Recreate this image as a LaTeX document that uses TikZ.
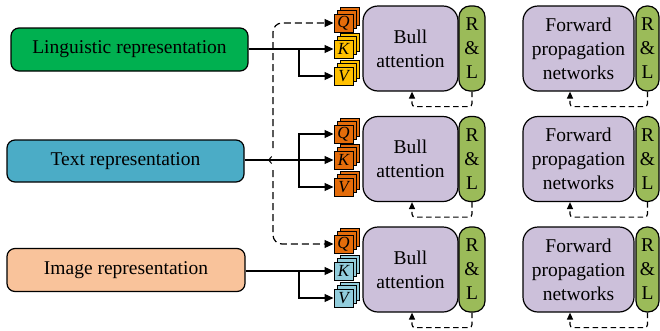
\documentclass[tikz,border=0pt]{standalone}
\usepackage{fontspec}
\setmainfont{Liberation Serif}
\usetikzlibrary{arrows.meta}
\definecolor{cLing}{HTML}{00B050}
\definecolor{cText}{HTML}{4BACC6}
\definecolor{cImg}{HTML}{F9C39B}
\definecolor{cAtt}{HTML}{CCC0DA}
\definecolor{cRL}{HTML}{9BBB59}
\definecolor{cQ}{HTML}{E46C0A}
\definecolor{cY}{HTML}{FFC000}
\definecolor{cB}{HTML}{92CDDC}
\tikzset{
  leftbox/.style={draw=black, line width=1.2pt, rounded corners=8pt, inner sep=0pt},
  attbox/.style={draw=black, line width=1.2pt, rounded corners=15pt, fill=cAtt, align=center, inner sep=0pt, minimum height=85pt},
  rlbox/.style={draw=black, line width=1.2pt, rounded corners=11pt, fill=cRL, align=center, inner sep=0pt, minimum height=85pt},
  sq/.style={draw=black, line width=1pt, minimum width=19pt, minimum height=18pt, inner sep=0pt, font=\fontsize{17}{17}\selectfont\itshape},
  ar/.style={line width=1.2pt, -{Triangle[length=9pt,width=8pt]}},
  dsh/.style={line width=1.2pt, dash pattern=on 7pt off 4pt, rounded corners=9pt, -{Triangle[length=9pt,width=8pt]}},
  fb/.style={line width=1.2pt, dash pattern=on 5.5pt off 3.5pt, rounded corners=3pt, -{Triangle[length=7pt,width=6pt]}}
}
\newcommand\qkvstack[5]{%
  \node[sq,fill=#4] at (#2+6,#3-7) {};
  \node[sq,fill=#4] at (#2+3,#3-3.5) {};
  \node[sq,fill=#4] (#1) at (#2,#3) {#5};
}
\begin{document}
\begin{tikzpicture}[x=1pt,y=-1pt,font=\fontsize{19.5}{24}\selectfont]
\useasboundingbox (0,0) rectangle (660,330);

% left boxes
\node[leftbox, fill=cLing, minimum width=237pt, minimum height=43pt] (ling) at (129.5,49.5) {Linguistic representation};
\node[leftbox, fill=cText, minimum width=237pt, minimum height=42pt] (text) at (125.5,161) {Text representation};
\node[leftbox, fill=cImg, minimum width=238pt, minimum height=43pt] (img) at (126,270) {Image representation};

% stacks
\qkvstack{q1}{343.5}{23}{cQ}{Q}
\qkvstack{k1}{343.5}{49}{cY}{K}
\qkvstack{v1}{343.5}{76}{cY}{V}
\qkvstack{q2}{343.5}{134}{cQ}{Q}
\qkvstack{k2}{343.5}{160}{cQ}{K}
\qkvstack{v2}{343.5}{187}{cQ}{V}
\qkvstack{q3}{343.5}{244}{cQ}{Q}
\qkvstack{k3}{343.5}{271}{cB}{K}
\qkvstack{v3}{343.5}{298}{cB}{V}

% attention blocks
\node[attbox, minimum width=95pt] (a1) at (410.5,48.5) {Bull\\attention};
\node[attbox, minimum width=95pt] (a2) at (410.5,159) {Bull\\attention};
\node[attbox, minimum width=95pt] (a3) at (410.5,269.5) {Bull\\attention};
\node[rlbox, minimum width=26pt] (r1) at (472,48.5) {R\\\&\\L};
\node[rlbox, minimum width=26pt] (r2) at (472,159) {R\\\&\\L};
\node[rlbox, minimum width=26pt] (r3) at (472,269.5) {R\\\&\\L};

% forward blocks
\node[attbox, minimum width=111pt] (f1) at (578.5,48.5) {Forward\\propagation\\networks};
\node[attbox, minimum width=111pt] (f2) at (578.5,159) {Forward\\propagation\\networks};
\node[attbox, minimum width=111pt] (f3) at (578.5,269.5) {Forward\\propagation\\networks};
\node[rlbox, minimum width=23pt] (s1) at (647.5,48.5) {R\\\&\\L};
\node[rlbox, minimum width=23pt] (s2) at (647.5,159) {R\\\&\\L};
\node[rlbox, minimum width=23pt] (s3) at (647.5,269.5) {R\\\&\\L};

% branch points
\coordinate (b1) at (299,49);
\coordinate (b2) at (299,160);
\coordinate (b3) at (299,271);
\coordinate (ju) at (273,148);
\coordinate (jd) at (273,170);

% row 1
\draw[ar] (ling.east |- k1.west) -- (k1.west);
\draw[ar] (b1) |- (v1.west);
% row 2
\draw[ar] (text.east |- k2.west) -- (k2.west);
\draw[ar] (b2) |- (q2.west);
\draw[ar] (b2) |- (v2.west);
\draw[line width=1pt, -{Straight Barb[length=3pt,width=7pt]}] (274,160) -- (268,160);
% row 3
\draw[ar] (img.east |- k3.west) -- (k3.west);
\draw[ar] (b3) |- (v3.west);

% shared query
\draw[dsh] (ju) |- (q1.west);
\draw[dsh] (jd) |- (q3.west);

% feedback loops
\draw[fb] (r1.south) -- ++(0,15) -| ([xshift=1.5pt]a1.south);
\draw[fb] (r2.south) -- ++(0,15) -| ([xshift=1.5pt]a2.south);
\draw[fb] (r3.south) -- ++(0,15) -| ([xshift=1.5pt]a3.south);
\draw[fb] (s1.south) -- ++(0,15) -| ([xshift=-8.5pt]f1.south);
\draw[fb] (s2.south) -- ++(0,15) -| ([xshift=-8.5pt]f2.south);
\draw[fb] (s3.south) -- ++(0,15) -| ([xshift=-8.5pt]f3.south);
\end{tikzpicture}
\end{document}
